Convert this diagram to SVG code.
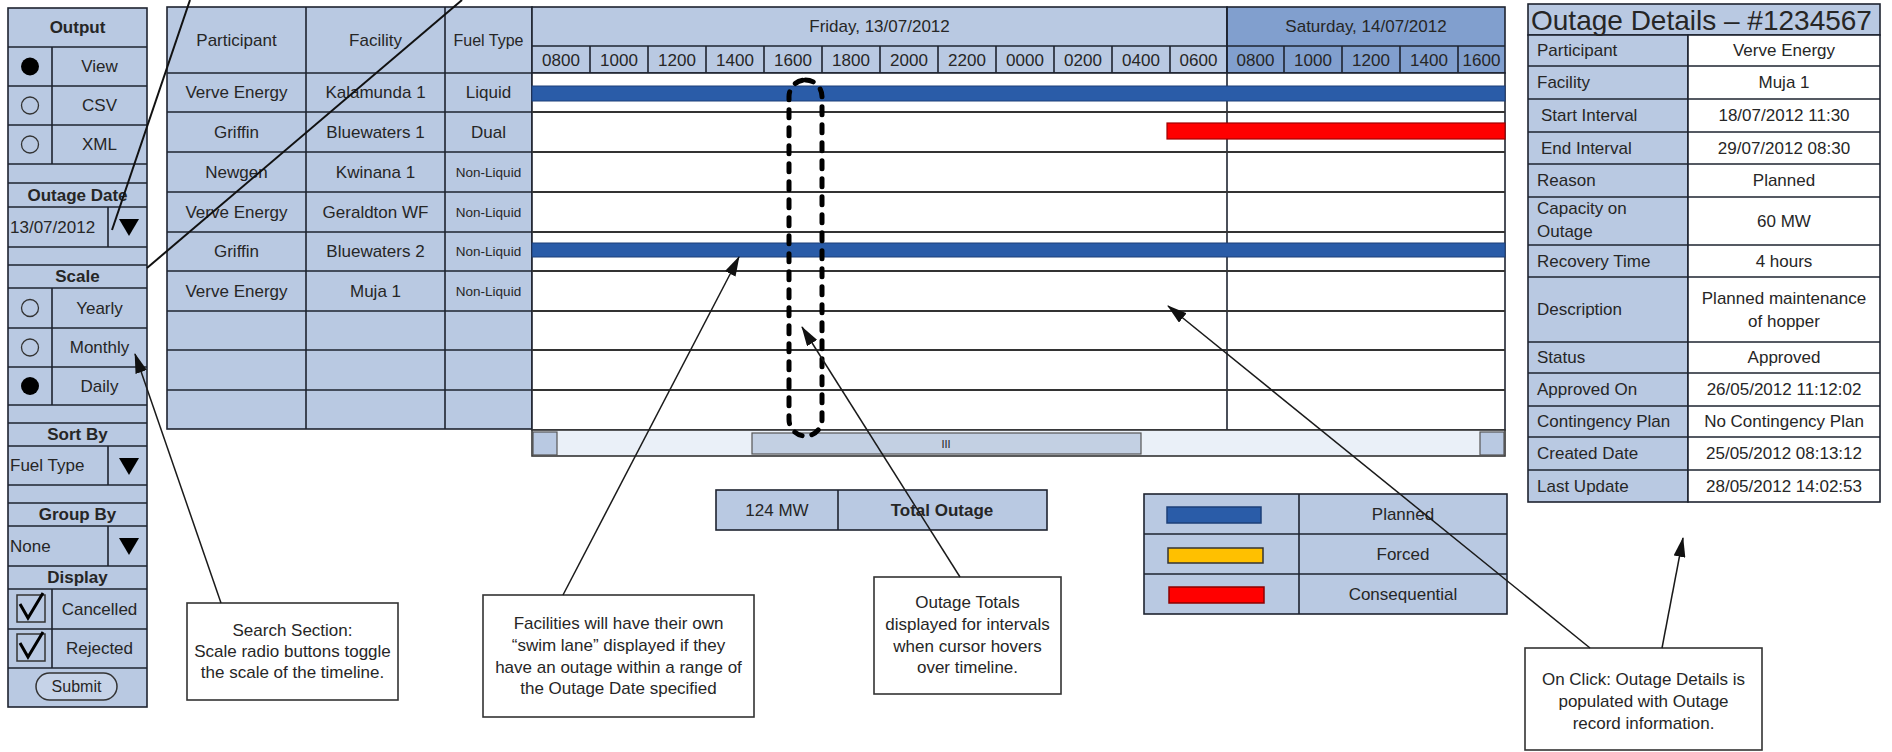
<svg xmlns="http://www.w3.org/2000/svg" width="1892" height="752" viewBox="0 0 1892 752">
<defs>
<style>
.pn{fill:#b9c9e2;stroke:#1e2430;stroke-width:1.6}
.sat{fill:#819fce;stroke:#1e2430;stroke-width:1.6}
.wh{fill:#ffffff;stroke:#1e2430;stroke-width:1.6}
.ln{stroke:#1e2430;stroke-width:1.6;fill:none}
.rl{stroke:#333;stroke-width:2;fill:none}
.t{font-family:"Liberation Sans",Arial,sans-serif;font-size:17px;fill:#262626;dominant-baseline:central}
.c{text-anchor:middle}
.b{font-weight:bold}
.sm{font-size:13.5px}
.cb{fill:#ffffff;stroke:#333;stroke-width:1.6}
.ar{stroke:#1a1a1a;stroke-width:1.5;fill:none}
.tl{stroke:#111;stroke-width:2;fill:none}
</style>
<marker id="ah" viewBox="0 0 20 12" refX="19" refY="6" markerWidth="20" markerHeight="12" markerUnits="userSpaceOnUse" orient="auto">
<path d="M0,0 L20,6 L0,12 Z" fill="#111"/>
</marker>
</defs>
<rect x="0" y="0" width="1892" height="752" fill="#ffffff"/>

<!-- Left search panel -->
<g id="search-panel">
<rect class="pn" x="8" y="8" width="139" height="699"/>
<g class="ln">
<path d="M8,47H147M8,86H147M8,125H147M8,164H147M8,183H147M8,207H147M8,247H147M8,265H147M8,288H147M8,328H147M8,367H147M8,405H147M8,423H147M8,446H147M8,485H147M8,503H147M8,526H147M8,566H147M8,589H147M8,629H147M8,668H147"/>
<path d="M52,47V164M52,288V405M52,589V668M108,207V247M108,446V485M108,526V566"/>
</g>
<text class="t c b" x="77.5" y="27.5">Output</text>
<circle cx="30" cy="66.5" r="9" fill="#000"/>
<circle cx="30" cy="105.5" r="8.5" fill="none" stroke="#333" stroke-width="1.3"/>
<circle cx="30" cy="144.5" r="8.5" fill="none" stroke="#333" stroke-width="1.3"/>
<text class="t c" x="99.5" y="66.5">View</text>
<text class="t c" x="99.5" y="105.5">CSV</text>
<text class="t c" x="99.5" y="144.5">XML</text>
<text class="t c b" x="77.5" y="195">Outage Date</text>
<text class="t" x="10" y="227">13/07/2012</text>
<path d="M119,219H139L129,236Z" fill="#000"/>
<text class="t c b" x="77.5" y="276.5">Scale</text>
<circle cx="30" cy="308" r="8.5" fill="none" stroke="#333" stroke-width="1.3"/>
<circle cx="30" cy="347.5" r="8.5" fill="none" stroke="#333" stroke-width="1.3"/>
<circle cx="30" cy="386" r="9" fill="#000"/>
<text class="t c" x="99.5" y="308">Yearly</text>
<text class="t c" x="99.5" y="347.5">Monthly</text>
<text class="t c" x="99.5" y="386">Daily</text>
<text class="t c b" x="77.5" y="434.5">Sort By</text>
<text class="t" x="10" y="465.5">Fuel Type</text>
<path d="M119,458H139L129,475Z" fill="#000"/>
<text class="t c b" x="77.5" y="514.5">Group By</text>
<text class="t" x="10" y="546">None</text>
<path d="M119,538H139L129,555Z" fill="#000"/>
<text class="t c b" x="77.5" y="577.5">Display</text>
<rect x="17" y="595" width="28" height="27" fill="none" stroke="#333" stroke-width="1.5"/>
<path d="M20,604 L28,618 L43,593" fill="none" stroke="#000" stroke-width="3"/>
<rect x="17" y="634" width="28" height="27" fill="none" stroke="#333" stroke-width="1.5"/>
<path d="M20,643 L28,657 L43,632" fill="none" stroke="#000" stroke-width="3"/>
<text class="t c" x="99.5" y="609">Cancelled</text>
<text class="t c" x="99.5" y="648.5">Rejected</text>
<rect x="36" y="673" width="81" height="27" rx="13.5" fill="#c6d3e8" stroke="#333" stroke-width="1.5"/>
<text class="t c" x="76.5" y="686.5" style="font-size:16px">Submit</text>
</g>

<!-- Outage table -->
<g id="outage-table">
<rect class="pn" x="167" y="7" width="365" height="422"/>
<g class="ln">
<path d="M306,7V429M445,7V429"/>
<path d="M167,73H532M167,112H532M167,152H532M167,192H532M167,232H532M167,271H532M167,311H532M167,350H532M167,390H532"/>
</g>
<text class="t c" x="236.5" y="40">Participant</text>
<text class="t c" x="375.5" y="40">Facility</text>
<text class="t c" x="488.5" y="40" style="font-size:16px">Fuel Type</text>
<text class="t c" x="236.5" y="92.5">Verve Energy</text>
<text class="t c" x="375.5" y="92.5">Kalamunda 1</text>
<text class="t c" x="488.5" y="92.5">Liquid</text>
<text class="t c" x="236.5" y="132">Griffin</text>
<text class="t c" x="375.5" y="132">Bluewaters 1</text>
<text class="t c" x="488.5" y="132">Dual</text>
<text class="t c" x="236.5" y="172">Newgen</text>
<text class="t c" x="375.5" y="172">Kwinana 1</text>
<text class="t c sm" x="488.5" y="172">Non-Liquid</text>
<text class="t c" x="236.5" y="212">Verve Energy</text>
<text class="t c" x="375.5" y="212">Geraldton WF</text>
<text class="t c sm" x="488.5" y="212">Non-Liquid</text>
<text class="t c" x="236.5" y="251.5">Griffin</text>
<text class="t c" x="375.5" y="251.5">Bluewaters 2</text>
<text class="t c sm" x="488.5" y="251.5">Non-Liquid</text>
<text class="t c" x="236.5" y="291">Verve Energy</text>
<text class="t c" x="375.5" y="291">Muja 1</text>
<text class="t c sm" x="488.5" y="291">Non-Liquid</text>
</g>

<!-- Timeline -->
<g id="timeline">
<rect class="pn" x="532" y="7" width="695" height="66"/>
<rect class="sat" x="1227" y="7" width="278" height="66"/>
<rect class="wh" x="532" y="73" width="973" height="357"/>
<g class="ln">
<path d="M532,46H1505"/>
<path d="M590,46V73M648,46V73M706,46V73M764,46V73M822,46V73M880,46V73M938,46V73M996,46V73M1054,46V73M1112,46V73M1170,46V73M1284,46V73M1342,46V73M1400,46V73M1458,46V73"/>
<path d="M1227,7V430"/>
</g>
<text class="t c" x="879.5" y="26.5">Friday, 13/07/2012</text>
<text class="t c" x="1366" y="26.5">Saturday, 14/07/2012</text>
<g class="t c">
<text x="561" y="60">0800</text><text x="619" y="60">1000</text><text x="677" y="60">1200</text><text x="735" y="60">1400</text>
<text x="793" y="60">1600</text><text x="851" y="60">1800</text><text x="909" y="60">2000</text><text x="967" y="60">2200</text>
<text x="1025" y="60">0000</text><text x="1083" y="60">0200</text><text x="1141" y="60">0400</text><text x="1198.5" y="60">0600</text>
<text x="1255.5" y="60">0800</text><text x="1313" y="60">1000</text><text x="1371" y="60">1200</text><text x="1429" y="60">1400</text><text x="1481.5" y="60">1600</text>
</g>
<path class="rl" d="M532,112H1505M532,152H1505M532,192H1505M532,232H1505M532,271H1505M532,311H1505M532,350H1505M532,390H1505"/>
<rect x="532" y="86" width="973" height="15" fill="#2a5ca8" stroke="#1d3f78" stroke-width="1"/>
<rect x="532" y="243" width="973" height="14" fill="#2a5ca8" stroke="#1d3f78" stroke-width="1"/>
<rect x="1167" y="123" width="338" height="16" fill="#ff0000" stroke="#a00000" stroke-width="1.2"/>
<rect x="532" y="430" width="973" height="26" fill="#eaf0f8" stroke="#333" stroke-width="1.6"/>
<rect x="533" y="432" width="24" height="23" fill="#b9c9e2" stroke="#555" stroke-width="1.2"/>
<rect x="1480" y="432" width="24" height="23" fill="#b9c9e2" stroke="#555" stroke-width="1.2"/>
<rect x="752" y="433" width="389" height="21" fill="#c3d0e3" stroke="#555" stroke-width="1.2"/>
<text class="t c" x="946" y="444" style="font-size:11px">III</text>
<rect x="789" y="80" width="33" height="356" rx="16.5" fill="none" stroke="#000" stroke-width="5" stroke-dasharray="8 10" stroke-linecap="round"/>
</g>

<!-- Outage details -->
<g id="outage-details">
<rect class="pn" x="1528" y="4" width="352" height="31"/>
<rect class="pn" x="1528" y="35" width="160" height="467"/>
<rect class="wh" x="1688" y="35" width="192" height="467"/>
<path class="ln" d="M1528,66H1880M1528,99H1880M1528,132H1880M1528,164H1880M1528,197H1880M1528,245H1880M1528,277H1880M1528,342H1880M1528,373H1880M1528,406H1880M1528,437H1880M1528,470H1880"/>
<text class="t" x="1531" y="20" style="font-size:28px">Outage Details – #1234567</text>
<g class="t">
<text x="1537" y="50.5">Participant</text>
<text x="1537" y="82.5">Facility</text>
<text x="1541" y="115.5">Start Interval</text>
<text x="1541" y="148">End Interval</text>
<text x="1537" y="180.5">Reason</text>
<text x="1537" y="208">Capacity on</text>
<text x="1537" y="231">Outage</text>
<text x="1537" y="261">Recovery Time</text>
<text x="1537" y="309.5">Description</text>
<text x="1537" y="357.5">Status</text>
<text x="1537" y="389.5">Approved On</text>
<text x="1537" y="421.5">Contingency Plan</text>
<text x="1537" y="453.5">Created Date</text>
<text x="1537" y="486">Last Update</text>
</g>
<g class="t c">
<text x="1784" y="50.5">Verve Energy</text>
<text x="1784" y="82.5">Muja 1</text>
<text x="1784" y="115.5">18/07/2012 11:30</text>
<text x="1784" y="148">29/07/2012 08:30</text>
<text x="1784" y="180.5">Planned</text>
<text x="1784" y="221">60 MW</text>
<text x="1784" y="261">4 hours</text>
<text x="1784" y="298">Planned maintenance</text>
<text x="1784" y="321">of hopper</text>
<text x="1784" y="357.5">Approved</text>
<text x="1784" y="389.5">26/05/2012 11:12:02</text>
<text x="1784" y="421.5">No Contingency Plan</text>
<text x="1784" y="453.5">25/05/2012 08:13:12</text>
<text x="1784" y="486">28/05/2012 14:02:53</text>
</g>
</g>

<!-- Total outage -->
<g id="total-outage">
<rect class="pn" x="716" y="490" width="331" height="40"/>
<path class="ln" d="M838,490V530"/>
<text class="t c" x="777" y="510">124 MW</text>
<text class="t c b" x="942" y="510">Total Outage</text>
</g>

<!-- Legend -->
<g id="legend">
<rect class="pn" x="1144" y="494" width="363" height="120"/>
<path class="ln" d="M1299,494V614M1144,534H1507M1144,574H1507"/>
<rect x="1167" y="507" width="94" height="16" fill="#2a5ca8" stroke="#1d3f78" stroke-width="1.5"/>
<rect x="1168" y="548" width="95" height="15" fill="#ffc000" stroke="#333" stroke-width="1.5"/>
<rect x="1169" y="587" width="95" height="16" fill="#ff0000" stroke="#8a0000" stroke-width="1.5"/>
<text class="t c" x="1403" y="514">Planned</text>
<text class="t c" x="1403" y="554">Forced</text>
<text class="t c" x="1403" y="594">Consequential</text>
</g>

<!-- Callouts -->
<g id="callout-search">
<rect class="cb" x="187" y="603" width="211" height="97"/>
<text class="t c" x="292.5" y="630">Search Section:</text>
<text class="t c" x="292.5" y="651">Scale radio buttons toggle</text>
<text class="t c" x="292.5" y="672">the scale of the timeline.</text>
</g>
<g id="callout-facilities">
<rect class="cb" x="483" y="595" width="271" height="122"/>
<text class="t c" x="618.5" y="623">Facilities will have their own</text>
<text class="t c" x="618.5" y="645">“swim lane” displayed if they</text>
<text class="t c" x="618.5" y="667">have an outage within a range of</text>
<text class="t c" x="618.5" y="688">the Outage Date specified</text>
</g>
<g id="callout-totals">
<rect class="cb" x="874" y="577" width="187" height="117"/>
<text class="t c" x="967.5" y="602">Outage Totals</text>
<text class="t c" x="967.5" y="624">displayed for intervals</text>
<text class="t c" x="967.5" y="646">when cursor hovers</text>
<text class="t c" x="967.5" y="667">over timeline.</text>
</g>
<g id="callout-onclick">
<rect class="cb" x="1525" y="648" width="237" height="102"/>
<text class="t c" x="1643.5" y="679">On Click: Outage Details is</text>
<text class="t c" x="1643.5" y="701">populated with Outage</text>
<text class="t c" x="1643.5" y="723">record information.</text>
</g>

<!-- Connectors -->
<g id="connectors">
<line class="tl" x1="190" y1="0" x2="112" y2="230"/>
<line class="tl" x1="462" y1="0" x2="147" y2="268"/>
<line class="ar" x1="221" y1="603" x2="135" y2="354" marker-end="url(#ah)"/>
<line class="ar" x1="563" y1="595" x2="739" y2="257" marker-end="url(#ah)"/>
<line class="ar" x1="960" y1="577" x2="802" y2="327" marker-end="url(#ah)"/>
<line class="ar" x1="1590" y1="648" x2="1168" y2="306" marker-end="url(#ah)"/>
<line class="ar" x1="1662" y1="648" x2="1683" y2="538" marker-end="url(#ah)"/>
</g>
</svg>
